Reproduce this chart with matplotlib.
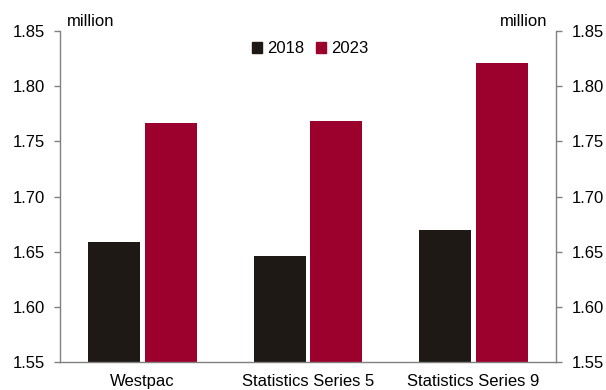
import matplotlib
matplotlib.use("Agg")
import matplotlib.pyplot as plt
from matplotlib.patches import Patch
import numpy as np

# Data
categories = ["Westpac", "Statistics Series 5", "Statistics Series 9"]
series_names = ["2018", "2023"]
values_2018 = [1.659, 1.646, 1.670]
values_2023 = [1.767, 1.768, 1.821]
y_ticks = [1.55, 1.60, 1.65, 1.70, 1.75, 1.80, 1.85]

DARK = "#1e1914"
RED = "#9c002d"
SPINE = "#808080"

plt.rcParams["font.family"] = ["Liberation Sans", "DejaVu Sans"]

fig = plt.figure(figsize=(6.06, 3.90), dpi=100)
ax = fig.add_axes([0.099, 0.0718, 0.8185, 0.8487])

x = np.arange(len(categories))
width = 0.315
offset = 0.172
ax.bar(x - offset, values_2018, width, color=DARK, bottom=0)
ax.bar(x + offset, values_2023, width, color=RED, bottom=0)

ax.set_xlim(-0.5, 2.5)
ax.set_ylim(1.55, 1.85)
ax.set_yticks(y_ticks)
ax.set_yticklabels([f"{v:.2f}" for v in y_ticks])
ax.set_xticks(x)
ax.set_xticklabels(categories)

for side in ["left", "right", "bottom"]:
    ax.spines[side].set_color(SPINE)
    ax.spines[side].set_linewidth(1.0)
ax.spines["top"].set_visible(False)

ax.tick_params(axis="y", labelsize=12, length=4, width=1, color=SPINE,
               direction="out", pad=7, left=True, right=True,
               labelleft=True, labelright=True)
ax.tick_params(axis="x", labelsize=12, length=0, pad=9)

# unit labels above both axes
ax.text(0.014, 1.03, "million", transform=ax.transAxes, fontsize=12,
        ha="left", va="center")
ax.text(0.982, 1.03, "million", transform=ax.transAxes, fontsize=12,
        ha="right", va="center")

handles = [Patch(color=DARK), Patch(color=RED)]
ax.legend(handles, series_names, loc="center", bbox_to_anchor=(0.504, 0.946),
          ncol=2, frameon=False, fontsize=12, handlelength=0.6,
          handleheight=0.6, handletextpad=0.3, columnspacing=0.7,
          borderpad=0, borderaxespad=0)

fig.savefig("out.png", dpi=100)
plt.close(fig)
